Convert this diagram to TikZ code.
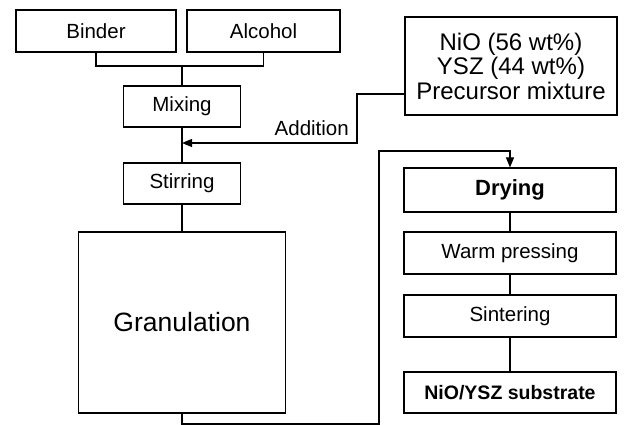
\documentclass[tikz,border=0pt]{standalone}
\usepackage{fontspec}
\setmainfont{Liberation Sans}
\usepackage{tikz}
\usetikzlibrary{arrows.meta}

\begin{document}
\begin{tikzpicture}[x=1pt, y=-1pt,
		box/.style={draw, line width=1.1pt, inner sep=0pt, align=center, font=\fontsize{20.5}{24}\selectfont},
		conn/.style={line width=1.1pt},
		arr/.style={conn, -{Triangle[length=10pt, width=8pt]}}]
				\useasboundingbox (0,0) rectangle (624,425);

				% Materie prime
				\node[box, minimum width=160, minimum height=42] (binder) at (96, 31) {Binder};
				\node[box, minimum width=153, minimum height=42] (alcohol) at (263.5, 31) {Alcohol};
				\node[box, minimum width=212, minimum height=98, font=\fontsize{24}{24.5}\selectfont] (precursor) at (511, 66) {NiO (56 wt\%)\\YSZ (44 wt\%)\\Precursor mixture};

				% Ramo sinistro
				\node[box, minimum width=117, minimum height=41] (mixing) at (182, 106.5) {Mixing};
				\node[box, minimum width=117, minimum height=41] (stirring) at (182, 183.5) {Stirring};
				\node[box, minimum width=207, minimum height=181, font=\fontsize{26.5}{30}\selectfont] (gran) at (182, 322.5) {Granulation};

				% Ramo destro
				\node[box, minimum width=212, minimum height=44, font=\bfseries\fontsize{22}{26}\selectfont] (drying) at (510, 190) {Drying};
				\node[box, minimum width=212, minimum height=42] (warm) at (510, 253) {Warm pressing};
				\node[box, minimum width=212, minimum height=42] (sinter) at (510, 316) {Sintering};
				\node[box, minimum width=212, minimum height=41, font=\bfseries\fontsize{19.5}{24}\selectfont] (substrate) at (510, 392.5) {NiO/YSZ substrate};

				% Collegamenti
				\coordinate (join) at (182, 66);
				\draw[conn] (binder.south) |- (join) -| (alcohol.south);
				\draw[conn] (join) -- (mixing.north);
				\draw[conn] (mixing.south) -- (stirring.north);
				\draw[conn] (stirring.south) -- (gran.north);

				% Aggiunta del precursore
				\coordinate (pin) at (precursor.west |- 0, 94);
				\coordinate (addtip) at (182, 143);
				\draw[arr] (pin) -- (357, 94) -- (357, 143) -- (addtip);
				\node[anchor=east, inner sep=0pt, font=\fontsize{20.5}{24}\selectfont] (addlbl) at (349, 128) {Addition};

				% Anello verso l'essiccazione
				\draw[arr] (gran.south) |- (379, 424) -- (379, 151) -| (drying.north);
				\draw[conn] (drying.south) -- (warm.north);
				\draw[conn] (warm.south) -- (sinter.north);
				\draw[conn] (sinter.south) -- (substrate.north);
			\end{tikzpicture}
\end{document}
